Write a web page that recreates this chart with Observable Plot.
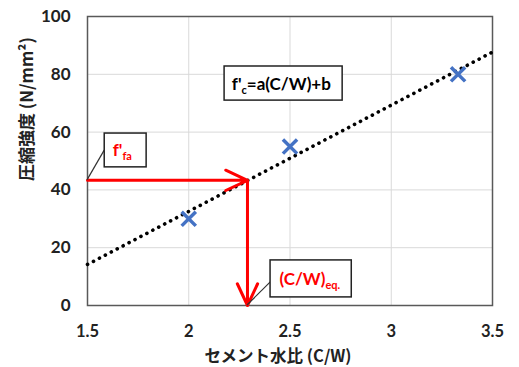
<!DOCTYPE html>
<html>
<head>
<meta charset="utf-8">
<script src="https://cdn.jsdelivr.net/npm/d3@7"></script>
<script src="https://cdn.jsdelivr.net/npm/@observablehq/plot@0.6"></script>
<style>
  html, body { margin: 0; padding: 0; background: #fff; }
  #chart { width: 519px; height: 367px; }
</style>
</head>
<body>
<div id="chart"></div>
<script>
// ---- data ----
const cementWaterRatio = [2, 2.5, 3.33];
const strength = [30, 55, 80];
const trendX = [1.5, 3.5];
const trendY = [14.2, 87.7];
const xTicks = [1.5, 2, 2.5, 3, 3.5];
const yTicks = [0, 20, 40, 60, 80, 100];
const fFa = 43.3;      // f'fa
const cwEq = 2.29;     // (C/W)eq.
const xLabel = "セメント水比 (C/W)";
const yLabel = "圧縮強度 (N/mm²)";

const points = cementWaterRatio.map((x, i) => ({x, y: strength[i]}));
const trend = trendX.map((x, i) => ({x, y: trendY[i]}));
const arrows = [
  {x1: xTicks[0], y1: fFa, x2: cwEq, y2: fFa},
  {x1: cwEq, y1: fFa, x2: cwEq, y2: 0}
];

const tickFont = "Lato, 'Open Sans', sans-serif";
const jpFont = "'Noto Sans CJK JP', sans-serif";

const plot = Plot.plot({
  width: 519,
  height: 367,
  marginLeft: 87,
  marginRight: 27,
  marginTop: 16,
  marginBottom: 62,
  style: {fontFamily: tickFont, background: "#fff", overflow: "visible"},
  x: {domain: [1.5, 3.5], ticks: xTicks},
  y: {domain: [0, 100], ticks: yTicks},
  marks: [
    Plot.ruleX(xTicks.slice(1, -1), {stroke: "#d9d9d9", strokeWidth: 1}),
    Plot.ruleY(yTicks.slice(1, -1), {stroke: "#d9d9d9", strokeWidth: 1}),
    Plot.frame({stroke: "#595959", strokeWidth: 1.5}),
    Plot.axisX({ticks: xTicks, tickSize: 0, tickPadding: 20, tickFormat: d => String(d),
      fontSize: 16.5, fontWeight: "bold", fill: "#222", label: null}),
    Plot.axisY({ticks: yTicks, tickSize: 0, tickPadding: 17, tickFormat: d => String(d),
      fontSize: 17, fontWeight: "bold", fill: "#222", label: null}),
    Plot.line(trend, {x: "x", y: "y", stroke: "#000", strokeWidth: 3.6,
      strokeDasharray: "0.1,6.6", strokeLinecap: "round"}),
    Plot.dot(points, {x: "x", y: "y", symbol: "times", r: 6.5, stroke: "#4472C4", strokeWidth: 3.5}),
    Plot.arrow(arrows, {x1: "x1", y1: "y1", x2: "x2", y2: "y2", stroke: "#ff0000",
      strokeWidth: 3, headLength: 12, headAngle: 50}),
    Plot.text([xLabel], {frameAnchor: "bottom", dx: -12, dy: 56, fontSize: 16.5, fontWeight: "bold",
      fontFamily: jpFont, fill: "#222"}),
    Plot.text([yLabel], {frameAnchor: "left", dx: -60, dy: 20, rotate: -90, fontSize: 17,
      fontWeight: "bold", fontFamily: jpFont, fill: "#222"})
  ]
});

document.getElementById("chart").appendChild(plot);

// ---- annotation boxes (positioned via the plot's scales) ----
const sx = plot.scale("x"), sy = plot.scale("y");
const X = v => sx.apply(v), Y = v => sy.apply(v);
const svg = d3.select(plot);
const g = svg.append("g").attr("text-anchor", "start");

function box(x1, x2, y1, y2) {
  g.append("rect")
    .attr("x", X(x1)).attr("y", Y(y1))
    .attr("width", X(x2) - X(x1)).attr("height", Y(y2) - Y(y1))
    .attr("fill", "#fff").attr("stroke", "#222").attr("stroke-width", 1.5);
}
function leader(x1, y1, x2, y2) {
  g.append("line").attr("x1", X(x1)).attr("y1", Y(y1)).attr("x2", X(x2)).attr("y2", Y(y2))
    .attr("stroke", "#333").attr("stroke-width", 1.2);
}
function rich(x, y, parts, color) {
  const t = g.append("text").attr("x", X(x)).attr("y", Y(y))
    .attr("text-anchor", "start")
    .attr("font-family", tickFont).attr("font-weight", "bold").attr("font-size", 17).attr("fill", color);
  let prevSub = false;
  parts.forEach(([s, isSub]) => {
    const ts = t.append("tspan").text(s);
    if (isSub) ts.attr("font-size", 11);
    ts.attr("dy", isSub && !prevSub ? 4 : (!isSub && prevSub ? -4 : 0));
    prevSub = isSub;
  });
}

// f'c = a(C/W)+b
box(2.177, 2.76, 82.7, 70.9);
rich(2.215, 74.3, [["f'", false], ["c", true], ["=a(C/W)+b", false]], "#000");

// f'fa
leader(1.5, fFa, 1.585, 53.6);
box(1.585, 1.792, 59.5, 47.8);
rich(1.627, 51.5, [["f'", false], ["fa", true]], "#ff0000");

// (C/W)eq.
leader(cwEq, 0, 2.405, 8.0);
box(2.404, 2.805, 15.6, 2.8);
rich(2.45, 6.8, [["(C/W)", false], ["eq.", true]], "#ff0000");
</script>
</body>
</html>
